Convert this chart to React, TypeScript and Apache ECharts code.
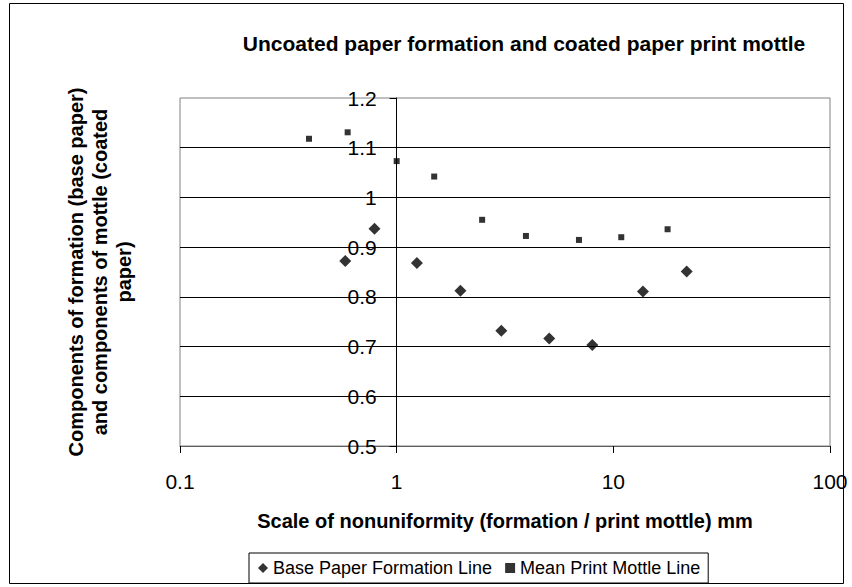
import React, { useEffect, useRef } from "react";
import * as echarts from "echarts";

const formationX = [0.579, 0.79, 1.24, 1.97, 3.04, 5.06, 8.0, 13.7, 21.8];
const formationY = [0.872, 0.937, 0.868, 0.8125, 0.732, 0.716, 0.703, 0.811, 0.851];
const mottleX = [0.394, 0.594, 1.0, 1.49, 2.48, 3.95, 6.94, 10.88, 17.8];
const mottleY = [1.118, 1.131, 1.073, 1.042, 0.955, 0.9225, 0.9145, 0.92, 0.936];
const xRange = [0.1, 100];
const yRange = [0.5, 1.2];
const yStep = 0.1;
const seriesNames = ["Base Paper Formation Line", "Mean Print Mottle Line"];
const titleText = "Uncoated paper formation and coated paper print mottle";
const xTitle = "Scale of nonuniformity (formation / print mottle) mm";
const yTitle = "Components of formation (base paper)\nand components of mottle (coated\npaper)";

const FONT = "'Liberation Sans', Arial, sans-serif";

export default function App() {
  const ref = useRef<HTMLDivElement>(null);
  useEffect(() => {
    if (!ref.current) return;
    const chart = echarts.init(ref.current, null, { renderer: "svg" });
    const gridLeft = 180;
    const gridRight = 830;
    const gridW = gridRight - gridLeft;
    const decades = Math.log10(xRange[1]) - Math.log10(xRange[0]);
    const yAxisOffset = -(gridW * (Math.log10(1) - Math.log10(xRange[0]))) / decades;
    const fmt = (v: number) => String(parseFloat(Number(v).toPrecision(6)));
    chart.setOption({
      animation: false,
      backgroundColor: "#fff",
      textStyle: { fontFamily: FONT },
      grid: {
        left: gridLeft,
        right: 852 - gridRight,
        top: 98,
        bottom: 587 - 446,
        show: true,
        borderColor: "#808080",
        borderWidth: 1,
      },
      xAxis: {
        type: "log",
        logBase: 10,
        min: xRange[0],
        max: xRange[1],
        name: xTitle,
        nameLocation: "middle",
        nameGap: 65,
        nameTextStyle: { fontFamily: FONT, fontSize: 20, fontWeight: "bold", color: "#000" },
        axisLine: { show: true, lineStyle: { color: "#606060", width: 1 } },
        axisTick: { show: true, length: 7, inside: false, lineStyle: { color: "#000" } },
        axisLabel: { formatter: fmt, fontFamily: FONT, fontSize: 21, color: "#000", margin: 25 },
        splitLine: { show: false },
        minorTick: { show: false },
      },
      yAxis: {
        type: "value",
        min: yRange[0],
        max: yRange[1],
        interval: yStep,
        position: "left",
        offset: yAxisOffset,
        axisLine: { show: true, onZero: false, lineStyle: { color: "#000", width: 1 } },
        axisTick: { show: true, length: 7, inside: false, lineStyle: { color: "#000" } },
        axisLabel: { formatter: fmt, fontFamily: FONT, fontSize: 21, color: "#000", margin: 20 },
        splitLine: { show: true, showMinLine: false, showMaxLine: false, lineStyle: { color: "#000", width: 1 } },
      },
      legend: {
        left: 249,
        top: 553,
        orient: "horizontal",
        borderColor: "#000",
        borderWidth: 1,
        padding: [6, 8, 6, 9],
        itemGap: 13,
        itemWidth: 10,
        itemHeight: 10,
        textStyle: { fontFamily: FONT, fontSize: 18, color: "#000" },
        data: [
          { name: seriesNames[0], icon: "diamond" },
          { name: seriesNames[1], icon: "rect" },
        ],
      },
      graphic: [
        {
          type: "rect",
          shape: { x: 9.5, y: 3.5, width: 834, height: 580 },
          style: { fill: "none", stroke: "#000", lineWidth: 1 },
          silent: true,
          z: -10,
        },
        {
          type: "text",
          x: 524,
          y: 43,
          style: {
            text: titleText,
            fontFamily: FONT,
            fontSize: 21,
            fontWeight: "bold",
            fill: "#000",
            textAlign: "center",
            textVerticalAlign: "middle",
          },
        },
        {
          type: "text",
          x: 100,
          y: 272,
          rotation: Math.PI / 2,
          style: {
            text: yTitle,
            fontFamily: FONT,
            fontSize: 20,
            fontWeight: "bold",
            lineHeight: 24,
            fill: "#000",
            textAlign: "center",
            textVerticalAlign: "middle",
          },
        },
      ],
      series: [
        {
          name: seriesNames[0],
          type: "scatter",
          symbol: "diamond",
          symbolSize: 12,
          itemStyle: { color: "#000" },
          data: formationX.map((x, i) => [x, formationY[i]]),
        },
        {
          name: seriesNames[1],
          type: "scatter",
          symbol: "rect",
          symbolSize: 6,
          itemStyle: { color: "#000" },
          data: mottleX.map((x, i) => [x, mottleY[i]]),
        },
      ],
    });
    return () => chart.dispose();
  }, []);
  return (
    <div
      ref={ref}
      style={{ position: "fixed", left: 0, top: 0, width: 852, height: 587, background: "#fff" }}
    />
  );
}
